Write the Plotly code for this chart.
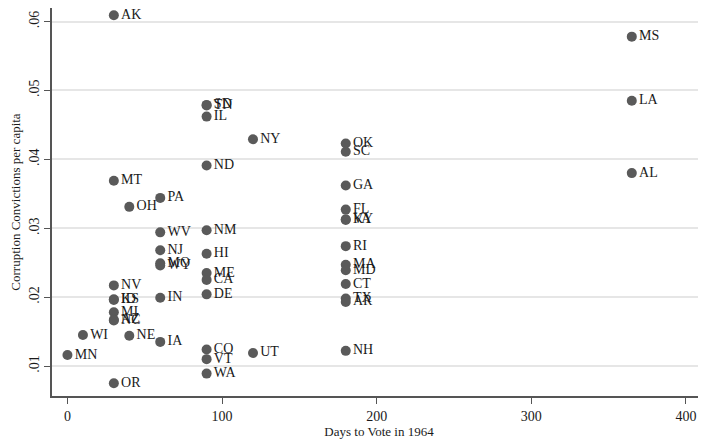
import plotly.graph_objects as go

states = ["AK", "MS", "LA", "AL", "SD", "TN", "IL", "NY", "ND", "OK", "SC",
          "GA", "FL", "KY", "VA", "RI", "MT", "OH", "PA", "WV", "NM", "NJ",
          "HI", "MO", "WY", "ME", "CA", "DE", "IN", "MA", "MD", "CT", "TX",
          "AR", "NV", "KS", "ID", "MI", "AZ", "NC", "WI", "NE", "IA", "MN",
          "CO", "VT", "WA", "OR", "UT", "NH"]
days = [30, 365, 365, 365, 90, 90, 90, 120, 90, 180, 180,
        180, 180, 180, 180, 180, 30, 40, 60, 60, 90, 60,
        90, 60, 60, 90, 90, 90, 60, 180, 180, 180, 180,
        180, 30, 30, 30, 30, 30, 30, 10, 40, 60, 0,
        90, 90, 90, 30, 120, 180]
convictions = [0.0609, 0.0578, 0.0485, 0.0380, 0.0479, 0.0478, 0.0462, 0.0429, 0.0391, 0.0423, 0.0411,
               0.0362, 0.0327, 0.0313, 0.0312, 0.0274, 0.0369, 0.0331, 0.0344, 0.0294, 0.0297, 0.0268,
               0.0263, 0.0249, 0.0246, 0.0235, 0.0225, 0.0204, 0.0199, 0.0247, 0.0239, 0.0219, 0.0198,
               0.0193, 0.0217, 0.0197, 0.0196, 0.0178, 0.0167, 0.0166, 0.0145, 0.0144, 0.0135, 0.0116,
               0.0124, 0.0110, 0.0089, 0.0075, 0.0119, 0.0122]

x_ticks = [0, 100, 200, 300, 400]
y_ticks = [0.01, 0.02, 0.03, 0.04, 0.05, 0.06]
y_tick_labels = [".01", ".02", ".03", ".04", ".05", ".06"]

FONT = "Liberation Serif, Times New Roman, serif"

fig = go.Figure(go.Scatter(
    x=days, y=convictions, text=states, mode="markers+text",
    textposition="middle right",
    textfont=dict(family=FONT, size=14, color="#1a1a1a"),
    marker=dict(size=10, color="#5a5a5a"),
    cliponaxis=False, hoverinfo="text+x+y",
))

# page body adds an 8px offset; figure sized to fit the 706x447 window
fig.update_layout(
    width=698, height=431,
    margin=dict(l=44, r=0, t=0, b=43),
    paper_bgcolor="white", plot_bgcolor="white",
    showlegend=False,
    font=dict(family=FONT, size=14, color="#1a1a1a"),
)
fig.update_xaxes(
    range=[-10, 413], tickvals=x_ticks, ticks="outside", ticklen=6,
    tickwidth=1.2, tickcolor="#555", showline=True, linecolor="#555",
    linewidth=1.5, showgrid=False, zeroline=False, automargin=False,
    ticklabeloverflow="allow",
    title=dict(text="Days to Vote in 1964", font=dict(size=13), standoff=2),
    tickfont=dict(size=14),
)
fig.update_yaxes(
    range=[0.00565, 0.06196], tickvals=y_ticks, ticktext=y_tick_labels,
    tickangle=-90, ticks="outside", ticklen=6, tickwidth=1.2,
    tickcolor="#555", showline=True, linecolor="#555", linewidth=1.5,
    showgrid=True, gridcolor="#e6e6e6", gridwidth=1.5, zeroline=False,
    automargin=False,
    title=dict(text="Corruption Convictions per capita", font=dict(size=13), standoff=4),
    tickfont=dict(size=14),
)

fig.write_html("out.html")
